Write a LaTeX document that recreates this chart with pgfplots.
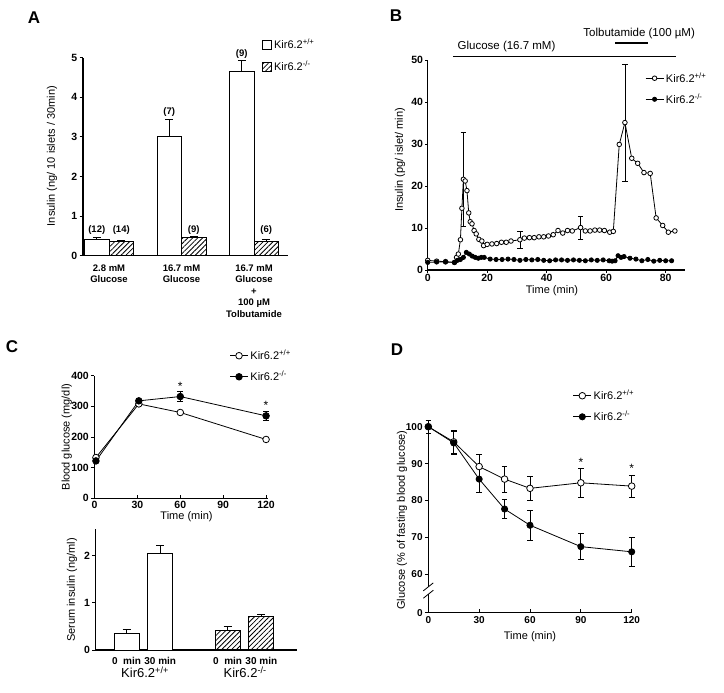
\documentclass[border=0pt]{standalone}
\usepackage{fontspec}
\setmainfont{Liberation Sans}
\usepackage{pgfplots}
\pgfplotsset{compat=1.18}
\usetikzlibrary{patterns.meta}

\tikzset{hatch/.style={pattern={Lines[angle=45,distance=3.5pt,line width=0.8pt]}, pattern color=black}}

\pgfplotsset{
  base/.style={
    scale only axis, anchor=south west, clip=false,
    axis lines*=left, tick align=outside, major tick length=3.5pt,
    axis line style={line width=1.1pt}, tick style={black, line width=0.9pt},
    every tick label/.append style={font=\bfseries\fontsize{10.5}{12}\selectfont, inner sep=2pt},
    label style={font=\fontsize{11}{13}\selectfont},
    /pgf/number format/assume math mode=true,
    legend cell align=left,
  },
  linelegend/.style={
    legend style={draw=none, fill=none, anchor=north west, inner sep=0pt,
      row sep=6pt, font=\fontsize{11}{13}\selectfont},
    legend image code/.code={\draw[mark repeat=2,mark phase=2,##1]
      plot coordinates {(0pt,0pt) (9pt,0pt) (18pt,0pt)};},
  },
  wt/.style={black, line width=0.8pt, mark=*, mark options={fill=white, solid, line width=0.8pt}},
  ko/.style={black, line width=0.8pt, mark=*, mark options={fill=black, solid}},
  ebar/.style={error bars/.cd, y dir=both, y explicit,
    error bar style={black, line width=0.8pt},
    error mark options={rotate=90, mark size=2.8pt, black, line width=0.8pt}},
  barerr/.style={error bars/.cd, y dir=plus, y explicit,
    error bar style={black, line width=0.9pt},
    error mark options={rotate=90, mark size=4pt, black, line width=0.9pt}},
}

\begin{document}
\begin{tikzpicture}
\path[use as bounding box] (0,0) rectangle (724pt,-693pt);

% panel letters
\begin{scope}[every node/.style={font=\bfseries\fontsize{17}{17}\selectfont}]
\node at (34pt,-18pt) {A};
\node at (396pt,-16pt) {B};
\node at (12pt,-347pt) {C};
\node at (397pt,-350pt) {D};
\end{scope}

% ---------------- A
\begin{axis}[base, at={(83pt,-255.7pt)}, width=205pt, height=198pt,
  xmin=0.641, xmax=3.469, ymin=0, ymax=5, ytick={0,1,...,5},
  xtick={1,2,3}, xtick style={draw=none},
  xticklabels={{2.8 mM\\Glucose},{16.7 mM\\Glucose},{16.7 mM\\Glucose\\+\\100 µM\\Tolbutamide}},
  xticklabel style={align=center, font=\bfseries\fontsize{9.5}{11.5}\selectfont, inner sep=5pt},
  ylabel={Insulin (ng/ 10 islets / 30min)},
  ylabel style={at={(axis description cs:-0.151,0.503)}, anchor=center},
  legend style={draw=none, fill=none, at={(axis description cs:0.873,1.105)}, anchor=north west,
    inner sep=0pt, row sep=7pt, font=\fontsize{11}{13}\selectfont},
]
\addlegendimage{legend image code/.code={\draw[black, fill=white, line width=0.9pt] (0pt,-4.5pt) rectangle (9pt,4.5pt);}}
\addlegendimage{legend image code/.code={\draw[black, hatch, line width=0.9pt] (0pt,-4.5pt) rectangle (9pt,4.5pt);}}
\addplot[ybar, bar width=24.5pt, bar shift=0pt, fill=white, draw=black, line width=0.9pt, barerr]
  coordinates {(0.831,0.42) +- (0,0.04) (1.831,3.02) +- (0,0.43) (2.831,4.65) +- (0,0.27)};
\addplot[ybar, bar width=24.5pt, bar shift=0pt, hatch, draw=black, line width=0.9pt, barerr]
  coordinates {(1.169,0.36) +- (0,0.02) (2.169,0.46) +- (0,0.02) (3.169,0.37) +- (0,0.03)};
\legend{Kir6.2\textsuperscript{+/+}, Kir6.2\textsuperscript{-/-}}
\begin{scope}[every node/.style={font=\bfseries\fontsize{9.5}{11}\selectfont}]
\node at (axis cs:0.831,0.65) {(12)};
\node at (axis cs:1.169,0.65) {(14)};
\node at (axis cs:1.831,3.62) {(7)};
\node at (axis cs:2.169,0.65) {(9)};
\node at (axis cs:2.831,5.09) {(9)};
\node at (axis cs:3.169,0.65) {(6)};
\end{scope}
\end{axis}

% ---------------- B
\begin{axis}[base, linelegend, at={(427.7pt,-270pt)}, width=257.3pt, height=210pt,
  xmin=0, xmax=86.5, ymin=0, ymax=50, xtick={0,20,...,80}, ytick={0,10,...,50},
  major tick length=2.5pt, xticklabel style={inner sep=1pt},
  xlabel={Time (min)}, ylabel={Insulin (pg/ islet/ min)},
  xlabel style={at={(axis description cs:0.483,-0.097)}, anchor=center},
  ylabel style={at={(axis description cs:-0.108,0.524)}, anchor=center},
  legend style={at={(axis description cs:0.8445,0.95)}},
]
\addplot[only marks, mark=none, forget plot, ebar]
  coordinates {(12,21.6) +- (0,11.2) (31,7.2) +- (0,2.0) (51.4,10.1) +- (0,2.75) (66.3,35.1) +- (0,13.9)};
\addplot[wt, mark size=2.3pt] coordinates {
 (0,2.3) (3,2.1) (6,2.0) (9,1.8) (9.7,3.0) (10.3,3.8) (11,7.2) (11.5,14.7) (12,21.6) (12.6,21.2)
 (13.2,18.9) (13.8,13.6) (14.3,11.5) (14.9,11.0) (15.6,9.4) (16.3,8.6) (17.2,7.3) (18.2,6.9)
 (18.8,5.8) (20,6.1) (21.6,6.2) (23.2,6.3) (24.8,6.6) (26.4,6.6) (28,6.9) (31,7.2) (32.5,7.6)
 (34.2,7.7) (35.8,7.7) (37.4,7.9) (39,7.9) (40.6,8.1) (42.2,8.4) (43.8,9.4) (45.4,8.8) (47,9.4)
 (48.6,9.3) (51.4,10.1) (53,9.3) (54.6,9.3) (56.2,9.5) (57.8,9.5) (59.4,9.4) (61.2,9.0) (62.4,9.2)
 (64.4,29.9) (66.3,35.1) (68.6,26.6) (70.6,25.4) (72.7,23.2) (74.8,23.0) (76.8,12.4) (79,10.6)
 (80.9,9.0) (83.1,9.3)};
\addplot[ko, mark size=2.1pt] coordinates {
 (0,1.8) (3,1.9) (6,1.9) (9,1.8) (10,2.3) (11,2.5) (12,3.0) (13,4.2) (14,3.8) (15,3.3) (16,3.0)
 (17,2.8) (18,3.0) (19,3.0) (21,2.6) (23,2.5) (25,2.5) (27,2.6) (29,2.5) (31,2.3) (33,2.5)
 (35,2.4) (37,2.5) (39,2.3) (41,2.2) (43,2.4) (45,2.4) (47,2.3) (49,2.4) (51,2.3) (53,2.2)
 (55,2.4) (57,2.3) (59,2.4) (61,2.2) (62,2.1) (63,2.2) (64,3.4) (65,3.0) (66,3.2) (68,2.8)
 (70,2.6) (72,2.2) (74,2.5) (76,2.1) (78,2.3) (80,2.2) (82,2.2)};
\legend{Kir6.2\textsuperscript{+/+}, Kir6.2\textsuperscript{-/-}}
\draw[line width=1.5pt] (axis cs:8.5,50.8) -- (axis cs:83.5,50.8);
\draw[line width=1.5pt] (axis cs:63,54.0) -- (axis cs:74,54.0);
\node[anchor=west, font=\fontsize{11.5}{13}\selectfont, inner sep=0pt] at (axis cs:10,53.2) {Glucose (16.7 mM)};
\node[anchor=west, font=\fontsize{11.5}{13}\selectfont, inner sep=0pt] at (axis cs:52.3,56.3) {Tolbutamide (100 µM)};
\end{axis}

% ---------------- C top
\begin{axis}[base, linelegend, at={(94.5pt,-498.3pt)}, width=173pt, height=122.6pt,
  xmin=0, xmax=121, ymin=0, ymax=400, xtick={0,30,...,120}, ytick={0,100,...,400},
  x tick style={yshift=3.5pt},
  xlabel={Time (min)}, ylabel={Blood glucose (mg/dl)},
  xlabel style={at={(axis description cs:0.532,-0.152)}, anchor=center},
  ylabel style={at={(axis description cs:-0.16,0.5)}, anchor=center},
  xticklabel style={yshift=3pt},
  legend style={at={(axis description cs:0.78,1.226)}},
]
\addplot[wt, mark size=3.3pt] coordinates {(1,133) (31,308) (60,280) (120,192)};
\addplot[ko, mark size=3.3pt, ebar] coordinates {(1,122) +- (0,0) (31,318) +- (0,0) (60,332) +- (0,16) (120,269) +- (0,15)};
\legend{Kir6.2\textsuperscript{+/+}, Kir6.2\textsuperscript{-/-}}
\node[font=\fontsize{12}{12}\selectfont] at (axis cs:60,366) {*};
\node[font=\fontsize{12}{12}\selectfont] at (axis cs:120,302) {*};
\end{axis}

% ---------------- C bottom
\begin{axis}[base, at={(95.7pt,-650pt)}, width=201pt, height=121pt,
  xmin=0.086, xmax=6.05, ymin=0, ymax=2.558, ytick={0,1,2},
  xtick={1,2,4,5}, xtick style={draw=none},
  xticklabels={0~~min, 30 min, 0~~min, 30 min},
  xticklabel style={font=\bfseries\fontsize{10}{11}\selectfont, inner sep=4pt},
  ylabel={Serum insulin (ng/ml)},
  ylabel style={at={(axis description cs:-0.118,0.496)}, anchor=center},
]
\addplot[ybar, bar width=25pt, bar shift=0pt, fill=white, draw=black, line width=0.9pt, barerr]
  coordinates {(1,0.34) +- (0,0.085) (2,2.04) +- (0,0.16)};
\addplot[ybar, bar width=25pt, bar shift=0pt, hatch, draw=black, line width=0.9pt, barerr]
  coordinates {(4,0.42) +- (0,0.07) (5,0.70) +- (0,0.05)};
\node[font=\fontsize{13}{14}\selectfont] at (axis cs:1.55,-0.47) {Kir6.2\textsuperscript{+/+}};
\node[font=\fontsize{13}{14}\selectfont] at (axis cs:4.52,-0.47) {Kir6.2\textsuperscript{-/-}};
\end{axis}

% ---------------- D
\begin{axis}[base, linelegend, at={(428.3pt,-612.7pt)}, width=203.4pt, height=186pt,
  xmin=0, xmax=120, ymin=49.6, ymax=100, xtick={0,30,...,120},
  every tick label/.append style={font=\bfseries\fontsize{10}{12}\selectfont},
  x tick style={yshift=3.5pt}, xticklabel style={yshift=2pt},
  ytick={49.6,60,70,80,90,100}, yticklabels={0,60,70,80,90,100},
  xlabel={Time (min)}, ylabel={Glucose (\% of fasting blood glucose)},
  xlabel style={at={(axis description cs:0.5,-0.127)}, anchor=center},
  ylabel style={at={(axis description cs:-0.129,0.498)}, anchor=center},
  legend style={at={(axis description cs:0.71,1.208)}},
]
\addplot[wt, mark size=3.3pt, ebar] coordinates {
 (0,100) +- (0,0) (15,95.9) +- (0,3.2) (30,89.2) +- (0,3.3) (45,85.8) +- (0,3.5)
 (60,83.3) +- (0,3.3) (90,84.8) +- (0,4.0) (120,83.9) +- (0,3.0)};
\addplot[ko, mark size=3.1pt, ebar] coordinates {
 (0,100) +- (0,1.8) (15,95.6) +- (0,3.2) (30,85.8) +- (0,3.6) (45,77.7) +- (0,2.6)
 (60,73.3) +- (0,4.0) (90,67.5) +- (0,3.5) (120,66.1) +- (0,4.0)};
\legend{Kir6.2\textsuperscript{+/+}, Kir6.2\textsuperscript{-/-}}
\node[font=\fontsize{12}{12}\selectfont] at (axis cs:90,90.2) {*};
\node[font=\fontsize{12}{12}\selectfont] at (axis cs:120,88.8) {*};
\draw[white, line width=5pt] (axis cs:0,54.6) -- (axis cs:0,56.6);
\draw[line width=0.8pt] ([xshift=-5pt,yshift=-4pt]axis cs:0,54.6) -- ([xshift=5pt,yshift=4pt]axis cs:0,54.6);
\draw[line width=0.8pt] ([xshift=-5pt,yshift=-4pt]axis cs:0,56.6) -- ([xshift=5pt,yshift=4pt]axis cs:0,56.6);
\end{axis}
\end{tikzpicture}
\end{document}
